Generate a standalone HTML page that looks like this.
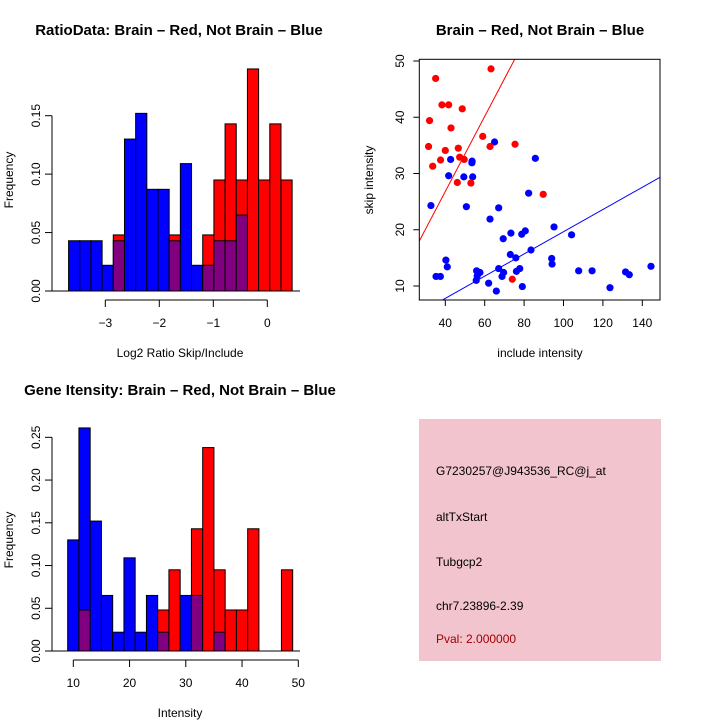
<!DOCTYPE html>
<html><head><meta charset="utf-8"><style>
html,body{margin:0;padding:0;background:#fff;}
svg{display:block;font-family:"Liberation Sans",Arial,sans-serif;}
</style></head><body>
<svg id="chart" width="720" height="720" viewBox="0 0 720 720">
<rect width="720" height="720" fill="#fff"/>
<g id="p1"></g>
<g id="p2"></g>
<g id="p3"></g>
<g id="p4">
<rect x="419" y="419" width="242" height="242" fill="#f2c4ce"/>
<text x="436" y="475" font-size="12" fill="#000">G7230257@J943536_RC@j_at</text>
<text x="436" y="521" font-size="12" fill="#000">altTxStart</text>
<text x="436" y="566" font-size="12" fill="#000">Tubgcp2</text>
<text x="436" y="610" font-size="12" fill="#000">chr7.23896-2.39</text>
<text x="436" y="643" font-size="12" fill="#a00000">Pval: 2.000000</text>
</g>
</svg>
<script>
// ---- Ratio histogram data ----
const ratioBinStart = -3.68;
const ratioBinWidth = 0.207;
const ratioBlue = [0.043,0.043,0.043,0.022,0.043,0.130,0.152,0.087,0.087,0.043,0.109,0.022,0.022,0.043,0.043,0.065,0,0,0,0];
const ratioRed  = [0,0,0,0,0.048,0,0,0,0,0.048,0,0,0.048,0.095,0.143,0.095,0.190,0.095,0.143,0.095];
const ratioXTicks = [-3,-2,-1,0];
const ratioYTicks = [0,0.05,0.10,0.15];
const ratioYTickLabels = ["0.00","0.05","0.10","0.15"];

// ---- Scatter data ----
const redX = [35.1,63.2,38.3,41.7,48.6,32.0,42.9,59.0,31.5,46.6,62.7,75.4,40.0,37.6,33.6,47.3,49.6,46.1,53.0,89.7,74.0];
const redY = [46.9,48.6,42.2,42.2,41.5,39.4,38.1,36.6,34.8,34.5,34.8,35.2,34.1,32.4,31.3,32.9,32.5,28.4,28.3,26.3,11.2];
const blueX = [32.7,42.7,41.7,53.5,49.4,53.9,65.0,85.7,50.7,67.1,62.7,82.3,95.2,104.1,69.4,73.3,78.8,80.6,83.5,73.0,75.8,94.0,94.2,40.3,41.0,35.3,37.5,55.9,57.6,56.2,55.7,62.0,65.9,67.1,69.6,68.8,76.1,77.8,79.1,107.7,114.5,123.6,131.5,133.4,144.4,53.6];
const blueY = [24.3,32.5,29.6,31.9,29.4,29.4,35.6,32.7,24.1,23.9,21.9,26.5,20.5,19.1,18.4,19.4,19.2,19.8,16.4,15.6,15.0,14.9,13.9,14.6,13.4,11.7,11.7,12.7,12.4,11.8,11.0,10.5,9.1,13.1,12.4,11.7,12.6,13.1,9.9,12.7,12.7,9.7,12.5,12.0,13.5,32.2];
const redFit = [0.667, 0.13];   // slope, intercept
const blueFit = [0.1975, -0.1];
const scXTicks = [40,60,80,100,120,140];
const scYTicks = [10,20,30,40,50];

// ---- Gene intensity histogram data ----
const geneBinStart = 9;
const geneBinWidth = 2;
const geneBlue = [0.130,0.261,0.152,0.065,0.022,0.109,0.022,0.065,0.022,0,0.065,0.065,0,0.022,0,0,0,0,0,0];
const geneRed  = [0,0.048,0,0,0,0,0,0,0.048,0.095,0,0.143,0.238,0.095,0.048,0.048,0.143,0,0,0.095];
const geneXTicks = [10,20,30,40,50];
const geneYTicks = [0,0.05,0.10,0.15,0.20,0.25];
const geneYTickLabels = ["0.00","0.05","0.10","0.15","0.20","0.25"];

const NS = "http://www.w3.org/2000/svg";
function mk(parent, tag, attrs, text){
  const e = document.createElementNS(NS, tag);
  for (const k in attrs) e.setAttribute(k, attrs[k]);
  if (text !== undefined) e.textContent = text;
  parent.appendChild(e);
  return e;
}
const BLUE="#0000ff", RED="#ff0000", PURPLE="#800080";
const TF=12, TT=15;

function hist(g, o){
  const {x, y, start, width, blue, red, xTicks, yTicks, yLabels, xLab, title, titleX, baseY, axisY, prefix} = o;
  for (let i=0;i<blue.length;i++){
    const b=blue[i], r=red[i];
    const x0=x(start+i*width), x1=x(start+(i+1)*width);
    const mx=Math.max(b,r), mn=Math.min(b,r);
    if (mx>0){
      const e=mk(g,'rect',{x:x0,y:y(mx),width:x1-x0,height:y(0)-y(mx),fill:b>=r?BLUE:RED,stroke:'#000','stroke-width':1});
      
      
    }
    if (mn>0){
      const e=mk(g,'rect',{x:x0,y:y(mn),width:x1-x0,height:y(0)-y(mn),fill:PURPLE,stroke:'#000','stroke-width':1});
      
      
    }
  }
  const bl=mk(g,'line',{x1:52,x2:300,y1:y(0),y2:y(0),stroke:'#000','stroke-width':1});
  
  
  const ya=mk(g,'line',{x1:52,x2:52,y1:y(yTicks[0]),y2:y(yTicks[yTicks.length-1]),stroke:'#000'});
  
  
  yTicks.forEach((v,i)=>{
    mk(g,'line',{x1:45,x2:52,y1:y(v),y2:y(v),stroke:'#000'});
    const t=mk(g,'text',{x:0,y:0,'font-size':TF,'text-anchor':'middle',transform:`translate(40,${y(v)}) rotate(-90)`},yLabels[i]);
    
    
  });
  const xa=mk(g,'line',{x1:x(xTicks[0]),x2:x(xTicks[xTicks.length-1]),y1:axisY,y2:axisY,stroke:'#000'});
  
  
  xTicks.forEach(v=>{
    mk(g,'line',{x1:x(v),x2:x(v),y1:axisY,y2:axisY+7,stroke:'#000'});
    const t=mk(g,'text',{x:x(v),y:axisY+27,'font-size':TF,'text-anchor':'middle'},v<0?'\u2212'+(-v):String(v));
    
    
  });
  const xl=mk(g,'text',{x:180,y:axisY+57,'font-size':TF,'text-anchor':'middle'},xLab);
  
  
  const yl=mk(g,'text',{x:0,y:0,'font-size':TF,'text-anchor':'middle',transform:`translate(13,${baseY}) rotate(-90)`},'Frequency');
  
  
  const tt=mk(g,'text',{x:titleX,y:o.titleY,'font-size':TT,'font-weight':'bold','text-anchor':'middle'},title);
  
  
}

hist(document.getElementById('p1'),{
  x:v=>105.3+(v+3)*54, y:v=>291-v*1168.7,
  start:ratioBinStart,width:ratioBinWidth,blue:ratioBlue,red:ratioRed,
  xTicks:ratioXTicks,yTicks:ratioYTicks,yLabels:ratioYTickLabels,
  xLab:'Log2 Ratio Skip/Include',title:'RatioData: Brain \u2013 Red, Not Brain \u2013 Blue',
  titleX:179,titleY:35,baseY:180,axisY:300,prefix:'ratio'
});
hist(document.getElementById('p3'),{
  x:v=>73.3+(v-10)*5.625, y:v=>651-v*854.7,
  start:geneBinStart,width:geneBinWidth,blue:geneBlue,red:geneRed,
  xTicks:geneXTicks,yTicks:geneYTicks,yLabels:geneYTickLabels,
  xLab:'Intensity',title:'Gene Itensity: Brain \u2013 Red, Not Brain \u2013 Blue',
  titleX:180,titleY:395,baseY:540,axisY:660,prefix:'gene'
});

(function(){
  const g=document.getElementById('p2');
  const L=419.3,R=660,T=59.3,B=300;
  const sx=v=>445.3+(v-40)*1.97, sy=v=>286-(v-10)*5.625;
  const cp=mk(g,'clipPath',{id:'scclip'});
  mk(cp,'rect',{x:L,y:T,width:R-L,height:B-T});
  blueX.forEach((v,i)=>{
    const c=mk(g,'circle',{cx:sx(v),cy:sy(blueY[i]),r:3.6,fill:BLUE});
    
    
  });
  redX.forEach((v,i)=>{
    const c=mk(g,'circle',{cx:sx(v),cy:sy(redY[i]),r:3.6,fill:RED});
    
    
  });
  const xa0=(L-445.3)/1.97+40, xa1=(R-445.3)/1.97+40;
  const rl=mk(g,'line',{x1:sx(xa0),y1:sy(redFit[0]*xa0+redFit[1]),x2:sx(xa1),y2:sy(redFit[0]*xa1+redFit[1]),stroke:RED,'stroke-width':1,'clip-path':'url(#scclip)'});
  
  
  const bl=mk(g,'line',{x1:sx(xa0),y1:sy(blueFit[0]*xa0+blueFit[1]),x2:sx(xa1),y2:sy(blueFit[0]*xa1+blueFit[1]),stroke:BLUE,'stroke-width':1,'clip-path':'url(#scclip)'});
  
  
  const box=mk(g,'rect',{x:L,y:T,width:R-L,height:B-T,fill:'none',stroke:'#000','stroke-width':1});
  
  
  scXTicks.forEach(v=>{
    mk(g,'line',{x1:sx(v),x2:sx(v),y1:B,y2:B+6,stroke:'#000'});
    const t=mk(g,'text',{x:sx(v),y:B+27,'font-size':TF,'text-anchor':'middle'},String(v));
    
    
  });
  scYTicks.forEach(v=>{
    mk(g,'line',{x1:L-6,x2:L,y1:sy(v),y2:sy(v),stroke:'#000'});
    const t=mk(g,'text',{x:0,y:0,'font-size':TF,'text-anchor':'middle',transform:`translate(404,${sy(v)}) rotate(-90)`},String(v));
    
    
  });
  const xl=mk(g,'text',{x:540,y:357,'font-size':TF,'text-anchor':'middle'},'include intensity');
  
  
  const yl=mk(g,'text',{x:0,y:0,'font-size':TF,'text-anchor':'middle',transform:'translate(373,180) rotate(-90)'},'skip intensity');
  
  
  const tt=mk(g,'text',{x:540,y:35,'font-size':TT,'font-weight':'bold','text-anchor':'middle'},'Brain \u2013 Red, Not Brain \u2013 Blue');
  
  
})();
</script>
</body></html>
